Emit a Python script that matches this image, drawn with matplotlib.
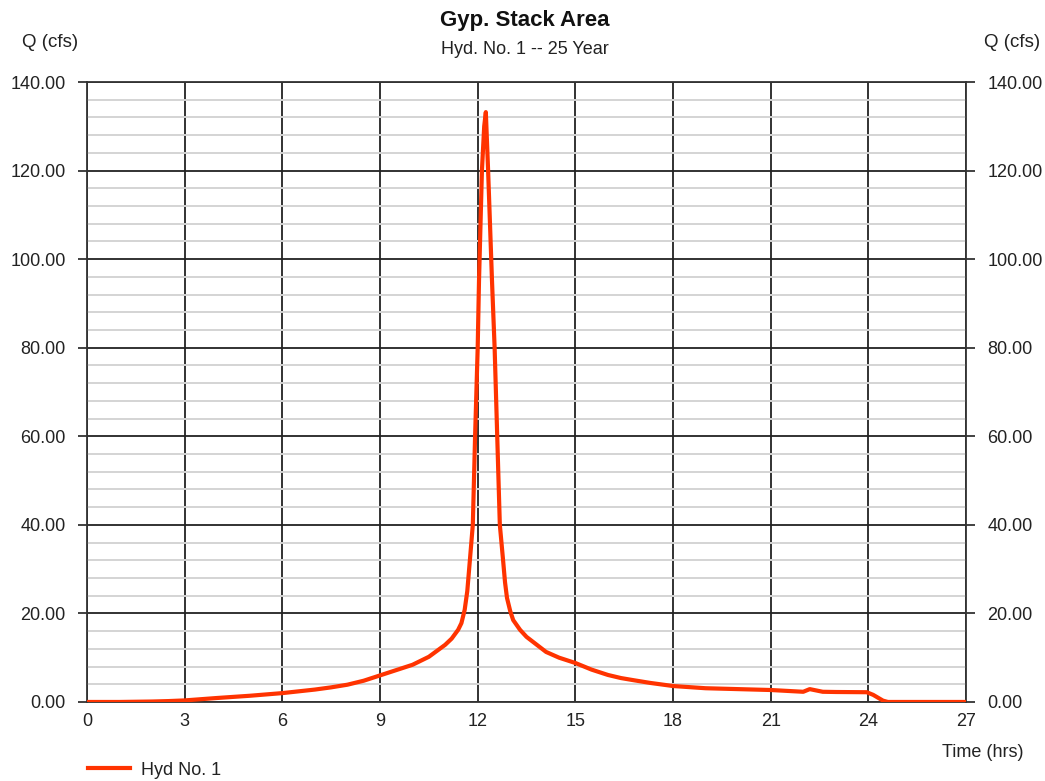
import matplotlib.pyplot as plt
from matplotlib.ticker import MultipleLocator

plt.rcParams['font.family'] = ['Liberation Sans', 'DejaVu Sans']

# hydrograph (hours, cfs)
time_hrs = [0, 1, 1.5, 2, 2.5, 3, 4, 5, 6, 7, 7.5, 8, 8.5, 9, 9.5, 10, 10.5,
            11, 11.2, 11.4, 11.5, 11.6, 11.68, 11.76, 11.85, 11.92, 12.0,
            12.04, 12.13, 12.2, 12.25, 12.32, 12.44, 12.52, 12.6, 12.68,
            12.78, 12.84, 12.9, 13.0, 13.09, 13.3, 13.5, 13.8, 14.1, 14.5,
            15, 15.5, 16, 16.4, 16.8, 17.3, 18, 19, 20, 21, 22, 22.2, 22.6,
            23, 23.95, 24.15, 24.45, 24.6, 27]
flow_cfs = [0, 0, 0.05, 0.1, 0.2, 0.35, 0.9, 1.4, 2.0, 2.8, 3.3, 3.9, 4.8,
            6.0, 7.2, 8.4, 10.2, 12.9, 14.3, 16.3, 17.8, 20.8, 25, 32, 40,
            60, 80, 95, 120, 130, 133.2, 120, 95, 80, 60, 40, 32, 27, 23.5,
            20.5, 18.5, 16.3, 14.7, 13.0, 11.3, 10.0, 8.8, 7.3, 6.1, 5.4,
            4.9, 4.3, 3.6, 3.1, 2.9, 2.7, 2.3, 2.9, 2.3, 2.25, 2.2, 1.6, 0.3,
            0, 0]

title = "Gyp. Stack Area"
subtitle = "Hyd. No. 1 -- 25 Year"
series_name = "Hyd No. 1"

fig = plt.figure(figsize=(10.45, 7.81), dpi=100)
ax = fig.add_axes([0.0833, 0.1012, 0.8411, 0.7938])

ax.plot(time_hrs, flow_cfs, color='#ff3300', lw=3.0, solid_capstyle='round',
        solid_joinstyle='round', zorder=5)

ax.set_xlim(0, 27)
ax.set_ylim(0, 140)
ax.xaxis.set_major_locator(MultipleLocator(3))
ax.yaxis.set_major_locator(MultipleLocator(20))
ax.yaxis.set_minor_locator(MultipleLocator(4))
ax.yaxis.set_major_formatter(lambda v, p: f"{v:.2f}")

ax.grid(which='minor', axis='y', color='#d4d4d4', lw=1.4)
ax.grid(which='major', axis='both', color='#222222', lw=1.3)
ax.set_axisbelow(True)

ax.tick_params(axis='y', which='major', direction='out', length=6.5, width=1.3,
               color='#333333', labelsize=13, labelcolor='#222222', pad=9,
               left=True, right=True, labelleft=True, labelright=True)
ax.tick_params(axis='y', which='minor', length=0)
ax.tick_params(axis='x', length=0, labelsize=13, labelcolor='#222222', pad=8)

for s in ax.spines.values():
    s.set_color('#333333')
    s.set_linewidth(1.3)

fig.text(0.5025, 0.974, title, ha='center', va='center', fontsize=16,
         fontweight='bold', color='#111111')
fig.text(0.5025, 0.936, subtitle, ha='center', va='center', fontsize=13,
         color='#222222')
fig.text(0.021, 0.946, "Q (cfs)", ha='left', va='center', fontsize=13.5,
         color='#222222')
fig.text(0.942, 0.946, "Q (cfs)", ha='left', va='center', fontsize=13.5,
         color='#222222')
fig.text(0.979, 0.036, "Time (hrs)", ha='right', va='center', fontsize=13,
         color='#222222')

ax.plot([], [], color='#ff3300', lw=3.0, label=series_name)
handles, labels = ax.get_legend_handles_labels()
fig.legend(handles[-1:], labels[-1:], loc='center left',
           bbox_to_anchor=(0.069, 0.014), frameon=False, fontsize=13,
           handlelength=2.3, handletextpad=0.6, labelcolor='#222222')

fig.savefig('out.png', dpi=100)
